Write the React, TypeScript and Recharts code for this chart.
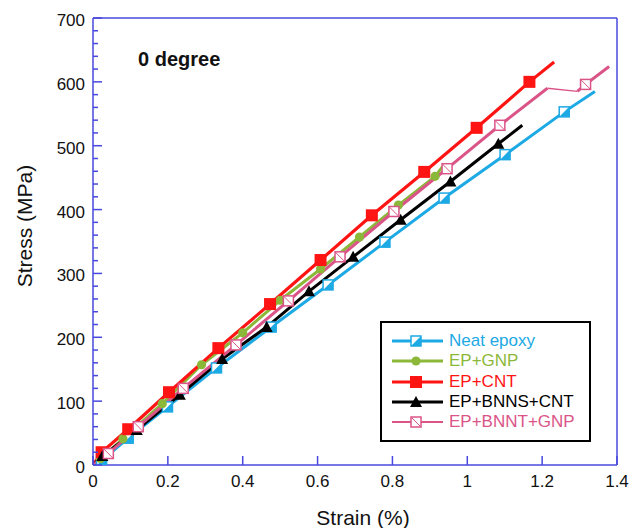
import React from 'react';
import { LineChart, Line, XAxis, YAxis, Legend, Label } from 'recharts';

// ---------- data ----------
const strainNeat = [0, 0.023, 0.094, 0.199, 0.33, 0.476, 0.628, 0.78, 0.938, 1.101, 1.259, 1.341];
const stressNeat = [0, 7, 42, 91, 152, 216, 282, 349, 418, 486, 553, 585];
const markNeat = [0, 1, 1, 1, 1, 1, 1, 1, 1, 1, 1, 0];

const strainGnp = [0, 0.02, 0.08, 0.185, 0.29, 0.4, 0.5, 0.608, 0.712, 0.816, 0.914, 0.935];
const stressGnp = [0, 10, 41, 96, 157, 207, 258, 307, 357, 407, 452, 468];
const markGnp = [0, 1, 1, 1, 1, 1, 1, 1, 1, 1, 1, 0];

const strainCnt = [0, 0.023, 0.094, 0.203, 0.335, 0.473, 0.608, 0.745, 0.885, 1.025, 1.166, 1.232];
const stressCnt = [0, 20, 56, 114, 183, 252, 321, 391, 459, 528, 600, 631];
const markCnt = [0, 1, 1, 1, 1, 1, 1, 1, 1, 1, 1, 0];

const strainBnnsCnt = [0, 0.025, 0.117, 0.232, 0.345, 0.464, 0.577, 0.695, 0.822, 0.955, 1.083, 1.147];
const stressBnnsCnt = [0, 14, 55, 110, 166, 216, 272, 326, 384, 444, 503, 532];
const markBnnsCnt = [0, 1, 1, 1, 1, 1, 1, 1, 1, 1, 1, 0];

const strainBnntGnp = [0, 0.041, 0.121, 0.241, 0.382, 0.522, 0.66, 0.804, 0.946, 1.087, 1.214, 1.294, 1.316, 1.379];
const stressBnntGnp = [0, 18, 60, 120, 188, 257, 326, 397, 464, 532, 590, 585, 596, 624];
const markBnntGnp = [0, 1, 1, 1, 1, 1, 1, 1, 1, 1, 0, 0, 1, 0];

const seriesNames = ['Neat epoxy', 'EP+GNP', 'EP+CNT', 'EP+BNNS+CNT', 'EP+BNNT+GNP'];
const xTicks = [0, 0.2, 0.4, 0.6, 0.8, 1, 1.2, 1.4];
const yTicks = Array.from({ length: 36 }, (_, i) => i * 20);
const annotation = '0 degree';
const xTitle = 'Strain (%)';
const yTitle = 'Stress (MPa)';

// ---------- styles ----------
const FONT = '"Liberation Sans", Arial, Helvetica, sans-serif';
const AX = '#4848DE';
const C_NEAT = '#1CA9E4';
const C_GNP = '#8CB83A';
const C_CNT = '#FF1414';
const C_BN = '#000000';
const C_BG = '#DB5488';

const build = (xs: number[], ys: number[], ms: number[]) =>
  xs.map((x, i) => ({ x, y: ys[i], m: ms[i] === 1 }));

const dNeat = build(strainNeat, stressNeat, markNeat);
const dGnp = build(strainGnp, stressGnp, markGnp);
const dCnt = build(strainCnt, stressCnt, markCnt);
const dBn = build(strainBnnsCnt, stressBnnsCnt, markBnnsCnt);
const dBg = build(strainBnntGnp, stressBnntGnp, markBnntGnp);
const dBgA = dBg.slice(0, 11);
const dBgThin = dBg.slice(10, 12);
const dBgB = dBg.slice(11);

// ---------- markers ----------
const NeatMk = ({ cx, cy }: any) => (
  <g>
    <rect x={cx - 5} y={cy - 5} width={10} height={10} fill="#fff" stroke={C_NEAT} strokeWidth={1.5} />
    <polygon points={`${cx - 5},${cy + 5} ${cx + 5},${cy - 5} ${cx + 5},${cy + 5}`} fill={C_NEAT} />
  </g>
);
const GnpMk = ({ cx, cy }: any) => <circle cx={cx} cy={cy} r={4.6} fill={C_GNP} />;
const CntMk = ({ cx, cy }: any) => <rect x={cx - 6} y={cy - 6} width={12} height={12} fill={C_CNT} />;
const BnMk = ({ cx, cy }: any) => (
  <polygon points={`${cx},${cy - 6} ${cx - 6},${cy + 5} ${cx + 6},${cy + 5}`} fill={C_BN} />
);
const BgMk = ({ cx, cy }: any) => (
  <g>
    <rect x={cx - 5} y={cy - 5} width={10} height={10} fill="#fff" stroke={C_BG} strokeWidth={1.5} />
    <line x1={cx - 5} y1={cy - 5} x2={cx + 5} y2={cy + 5} stroke={C_BG} strokeWidth={1} />
  </g>
);

const makeDot = (Shape: any, tag: string) => (props: any) => {
  const { cx, cy, payload, index } = props;
  if (!payload || !payload.m || cx == null || cy == null) return <g key={`${tag}-${index}`} />;
  return (
    <g key={`${tag}-${index}`}>
      <Shape cx={cx} cy={cy} />
    </g>
  );
};

// ---------- ticks ----------
const BottomTick = ({ x, y, payload }: any) => (
  <g>
    <line x1={x} x2={x} y1={y} y2={y - 9} stroke={AX} strokeWidth={1.5} />
    <text x={x} y={y + 22} textAnchor="middle" fontSize={17} fontFamily={FONT} fill="#111">
      {String(payload.value)}
    </text>
  </g>
);
const TopTick = ({ x, y }: any) => (
  <line x1={x} x2={x} y1={y} y2={y + 9} stroke={AX} strokeWidth={1.5} />
);
const LeftTick = ({ x, y, payload }: any) => {
  const major = payload.value % 100 === 0;
  return (
    <g>
      <line x1={x} x2={x + (major ? 9 : 5)} y1={y} y2={y} stroke={AX} strokeWidth={1.5} />
      {major && (
        <text x={x - 8} y={y + 8} textAnchor="end" fontSize={17} fontFamily={FONT} fill="#111">
          {String(payload.value)}
        </text>
      )}
    </g>
  );
};
const RightTick = ({ x, y, payload }: any) => {
  const major = payload.value % 100 === 0;
  return <line x1={x} x2={x - (major ? 9 : 5)} y1={y} y2={y} stroke={AX} strokeWidth={1.5} />;
};

// ---------- legend ----------
const legendItems = [
  { name: seriesNames[0], color: C_NEAT, Mk: NeatMk, w: 3 },
  { name: seriesNames[1], color: C_GNP, Mk: GnpMk, w: 3 },
  { name: seriesNames[2], color: C_CNT, Mk: CntMk, w: 3 },
  { name: seriesNames[3], color: C_BN, Mk: BnMk, w: 3 },
  { name: seriesNames[4], color: C_BG, Mk: BgMk, w: 2 },
];

const LegendBox = () => (
  <div
    style={{
      border: '2px solid #000',
      background: '#fff',
      width: 211,
      height: 121,
      boxSizing: 'border-box',
      padding: '8px 0 0 10px',
      fontFamily: FONT,
    }}
  >
    {legendItems.map((it) => (
      <div key={it.name} style={{ display: 'flex', alignItems: 'center', height: 20.3 }}>
        <svg width={51} height={16} style={{ display: 'block' }}>
          <line x1={0} x2={51} y1={8} y2={8} stroke={it.color} strokeWidth={it.w} />
          <it.Mk cx={24} cy={8} />
        </svg>
        <span style={{ color: it.color, fontSize: 17, marginLeft: 6, lineHeight: '20px', whiteSpace: 'nowrap' }}>
          {it.name}
        </span>
      </div>
    ))}
  </div>
);

export default function App() {
  return (
    <div
      style={{
        position: 'absolute',
        left: 0,
        top: 0,
        width: 630,
        height: 528,
        overflow: 'hidden',
        background: '#fff',
        fontFamily: FONT,
      }}
    >
      <div style={{ position: 'absolute', left: 8, top: 8, width: 622, height: 520 }}>
        <LineChart width={622} height={520} margin={{ top: 0, right: 0, bottom: 0, left: 0 }}>
          <XAxis
            xAxisId="b"
            dataKey="x"
            type="number"
            domain={[0, 1.4]}
            ticks={xTicks}
            interval={0}
            allowDataOverflow
            height={63}
            tickSize={0}
            tickMargin={0}
            tickLine={false}
            axisLine={{ stroke: AX, strokeWidth: 1.5 }}
            tick={<BottomTick />}
          >
            <Label
              content={() => (
                <text x={355} y={517} textAnchor="middle" fontSize={21} fontFamily={FONT} fill="#111">
                  {xTitle}
                </text>
              )}
            />
          </XAxis>
          <XAxis
            xAxisId="t"
            orientation="top"
            dataKey="x"
            type="number"
            domain={[0, 1.4]}
            ticks={xTicks}
            interval={0}
            height={10}
            tickSize={0}
            tickMargin={0}
            tickLine={false}
            axisLine={{ stroke: AX, strokeWidth: 1.5 }}
            tick={<TopTick />}
          />
          <YAxis
            yAxisId="l"
            type="number"
            domain={[0, 700]}
            ticks={yTicks}
            interval={0}
            allowDataOverflow
            width={85}
            tickSize={0}
            tickMargin={0}
            tickLine={false}
            axisLine={{ stroke: AX, strokeWidth: 1.5 }}
            tick={<LeftTick />}
          >
            <Label
              content={() => (
                <text
                  x={24}
                  y={218}
                  textAnchor="middle"
                  fontSize={21}
                  fontFamily={FONT}
                  fill="#111"
                  transform="rotate(-90 24 218)"
                >
                  {yTitle}
                </text>
              )}
            />
          </YAxis>
          <YAxis
            yAxisId="r"
            orientation="right"
            type="number"
            domain={[0, 700]}
            ticks={yTicks}
            interval={0}
            width={13}
            tickSize={0}
            tickMargin={0}
            tickLine={false}
            axisLine={{ stroke: AX, strokeWidth: 1.5 }}
            tick={<RightTick />}
          />
          <Legend
            layout="vertical"
            align="center"
            verticalAlign="middle"
            wrapperStyle={{ left: 372, top: 313, width: 211, height: 121 }}
            content={() => <LegendBox />}
          />
          <Line xAxisId="b" yAxisId="l" data={dNeat} dataKey="y" type="linear" stroke={C_NEAT} strokeWidth={3} dot={makeDot(NeatMk, 'n')} activeDot={false} isAnimationActive={false} />
          <Line xAxisId="b" yAxisId="l" data={dGnp} dataKey="y" type="linear" stroke={C_GNP} strokeWidth={3} dot={makeDot(GnpMk, 'g')} activeDot={false} isAnimationActive={false} />
          <Line xAxisId="b" yAxisId="l" data={dCnt} dataKey="y" type="linear" stroke={C_CNT} strokeWidth={3.2} dot={makeDot(CntMk, 'c')} activeDot={false} isAnimationActive={false} />
          <Line xAxisId="b" yAxisId="l" data={dBn} dataKey="y" type="linear" stroke={C_BN} strokeWidth={3} dot={makeDot(BnMk, 'k')} activeDot={false} isAnimationActive={false} />
          <Line xAxisId="b" yAxisId="l" data={dBgA} dataKey="y" type="linear" stroke={C_BG} strokeWidth={3} dot={makeDot(BgMk, 'p')} activeDot={false} isAnimationActive={false} />
          <Line xAxisId="b" yAxisId="l" data={dBgThin} dataKey="y" type="linear" stroke={C_BG} strokeWidth={1.3} dot={false} activeDot={false} isAnimationActive={false} />
          <Line xAxisId="b" yAxisId="l" data={dBgB} dataKey="y" type="linear" stroke={C_BG} strokeWidth={3} dot={makeDot(BgMk, 'q')} activeDot={false} isAnimationActive={false} />
        </LineChart>
      </div>
      <div
        style={{
          position: 'absolute',
          left: 138,
          top: 48,
          fontSize: 20,
          fontWeight: 'bold',
          fontFamily: FONT,
          color: '#111',
          pointerEvents: 'none',
        }}
      >
        {annotation}
      </div>
    </div>
  );
}
